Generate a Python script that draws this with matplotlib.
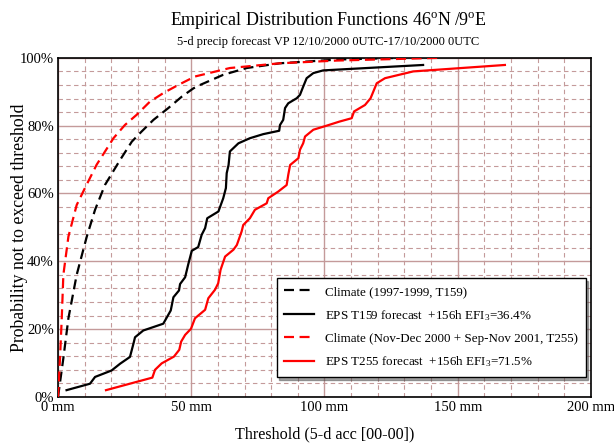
import matplotlib
matplotlib.use("Agg")
import matplotlib.pyplot as plt
from matplotlib.ticker import MultipleLocator, FuncFormatter

plt.rcParams['font.family'] = ['Liberation Serif', 'DejaVu Serif']
plt.rcParams['mathtext.fontset'] = 'custom'
plt.rcParams['mathtext.rm'] = 'Liberation Serif'
plt.rcParams['mathtext.it'] = 'Liberation Serif:italic'

# climate 1997-1999 (T159)
clim159_x = [0, 2.0, 3.9, 7.0, 8.3, 10.8, 13.9, 17.6, 23.3, 27.7, 31.4, 35.8, 41.4,
             46.5, 50.8, 53.3, 62.0, 70.8, 83.3, 105, 128]
clim159_y = [0, 11.4, 23.2, 36.0, 39.9, 47.3, 55.2, 62.5, 69.9, 75.3, 78.3, 81.7, 85.2,
             88.6, 91.0, 92.0, 95.0, 97.0, 98.4, 99.5, 100]

# EPS T159 forecast
eps159_x = [3.2, 12, 13.9, 20.1, 23.3, 27, 28.3, 28.9, 32, 39.5, 42.3, 43.3, 45.4, 45.8,
            47.7, 48.9, 50.2, 52.6, 53.9, 55.2, 56.0, 60.2, 62.0, 63.0, 63.3, 64.0, 64.5,
            67.7, 72, 77, 83, 83.3, 84.5, 85.2, 86.4, 89.6, 90.8, 92, 93.3, 95.8, 99.5, 137]
eps159_y = [2.0, 3.9, 5.9, 7.8, 9.8, 11.8, 15.7, 17.6, 19.6, 21.6, 25.5, 29.4, 31.4, 33.3,
            35.3, 39.2, 43.1, 44.2, 47.8, 49.8, 52.7, 54.7, 58.6, 61.6, 66.0, 68.4, 72.4,
            74.8, 76.3, 77.5, 78.5, 80.2, 81.7, 85.2, 86.6, 88.1, 89.1, 91.5, 94.0, 95.5, 96.3, 97.9]

# climate Nov-Dec 2000 + Sep-Nov 2001 (T255)
clim255_x = [0, 0.75, 1.4, 2.0, 3.9, 7.0, 10.1, 14.5, 20.8, 25.1, 29.5, 34.5, 39.5,
             45.1, 51.4, 64.5, 83.3, 104.6, 143]
clim255_y = [0, 11.4, 23.2, 36.0, 47.3, 56.6, 61.6, 68.5, 76.3, 80.2, 83.2, 87.1, 89.6,
             92.0, 94.5, 97.0, 98.4, 99.2, 100]

# EPS T255 forecast
eps255_x = [18, 35.4, 36.4, 38.9, 43.5, 45.5, 46.2, 47.7, 49.9, 51.4, 55.2, 56.4, 58.9,
            60.1, 61, 62.7, 65.8, 67.1, 68.9, 69.5, 72, 73.9, 78.3, 78.9, 82.7, 85.8, 86.4,
            87.1, 90.2, 90.8, 92, 92.7, 95.8, 100.8, 105.6, 110.2, 111.1, 115.2, 117.3,
            119.6, 122.7, 133.3, 167.7]
eps255_y = [2.0, 5.7, 8.0, 9.9, 11.9, 13.9, 16.3, 18.3, 20.1, 23.2, 25.7, 29.1, 31.6,
            33.5, 37.5, 41.4, 43.4, 44.8, 48.8, 50.7, 52.7, 55.2, 57.1, 58.6, 60.6, 62.5, 65.5,
            68.4, 70.4, 72.9, 74.8, 76.8, 78.8, 80.0, 81.2, 82.2, 84.2, 86.1, 88.1,
            92.5, 94.0, 96.0, 97.9]

labels = ['Climate (1997-1999, T159)',
          'EPS T159 forecast  +156h EFI$_3$=36.4%',
          'Climate (Nov-Dec 2000 + Sep-Nov 2001, T255)',
          'EPS T255 forecast  +156h EFI$_3$=71.5%']

fig = plt.figure(figsize=(6.14, 4.45), dpi=100)
ax = fig.add_axes([0.0945, 0.108, 0.868, 0.762])

dash = (4.5, 2.5)
ax.plot(clim159_x, clim159_y, color='black', lw=1.6, ls=(0, dash), label=labels[0], zorder=3)
ax.plot(eps159_x, eps159_y, color='black', lw=1.6, label=labels[1], zorder=3)
ax.plot(clim255_x, clim255_y, color='red', lw=1.6, ls=(0, dash), label=labels[2], zorder=3)
ax.plot(eps255_x, eps255_y, color='red', lw=1.6, label=labels[3], zorder=3)

ax.set_xlim(0, 200)
ax.set_ylim(0, 100)
ax.xaxis.set_major_locator(MultipleLocator(50))
ax.xaxis.set_minor_locator(MultipleLocator(10))
ax.yaxis.set_major_locator(MultipleLocator(20))
ax.yaxis.set_minor_locator(MultipleLocator(4))
ax.xaxis.set_major_formatter(FuncFormatter(lambda v, p: f'{v:.0f} mm'))
ax.yaxis.set_major_formatter(FuncFormatter(lambda v, p: f'{v:.0f}%'))
ax.tick_params(which='both', length=0, labelsize=10.5)
ax.tick_params(axis='x', pad=3)
ax.tick_params(axis='y', pad=3)

ax.grid(which='major', color='#c49a9a', lw=1.0, ls='-', zorder=0)
ax.grid(which='minor', color='#c49a9a', lw=0.8, ls=(0, (4, 3)), zorder=0)
ax.set_axisbelow(True)
for s in ax.spines.values():
    s.set_linewidth(1.2)
    s.set_color('black')

ax.set_xlabel('Threshold (5-d acc [00-00])', fontsize=11.6)
ax.xaxis.set_label_coords(0.5, -0.088)
ax.set_ylabel('Probability not to exceed threshold', fontsize=12.8)
ax.yaxis.set_label_coords(-0.056, 0.5)

fig.text(0.535, 0.955, r'Empirical Distribution Functions 46$^{\rm o}$N /9$^{\rm o}$E',
         ha='center', va='center', fontsize=13)
fig.text(0.535, 0.905, '5-d precip forecast VP 12/10/2000 0UTC-17/10/2000 0UTC',
         ha='center', va='center', fontsize=9)

leg = ax.legend(loc='lower right', bbox_to_anchor=(0.99, 0.059), fontsize=9.4,
                frameon=True, fancybox=False, shadow=True, edgecolor='black',
                framealpha=1, handlelength=2.3, handletextpad=0.8,
                borderpad=0.6, labelspacing=0.75, borderaxespad=0)
leg.get_frame().set_linewidth(1.0)

fig.savefig('out.png', dpi=100)
